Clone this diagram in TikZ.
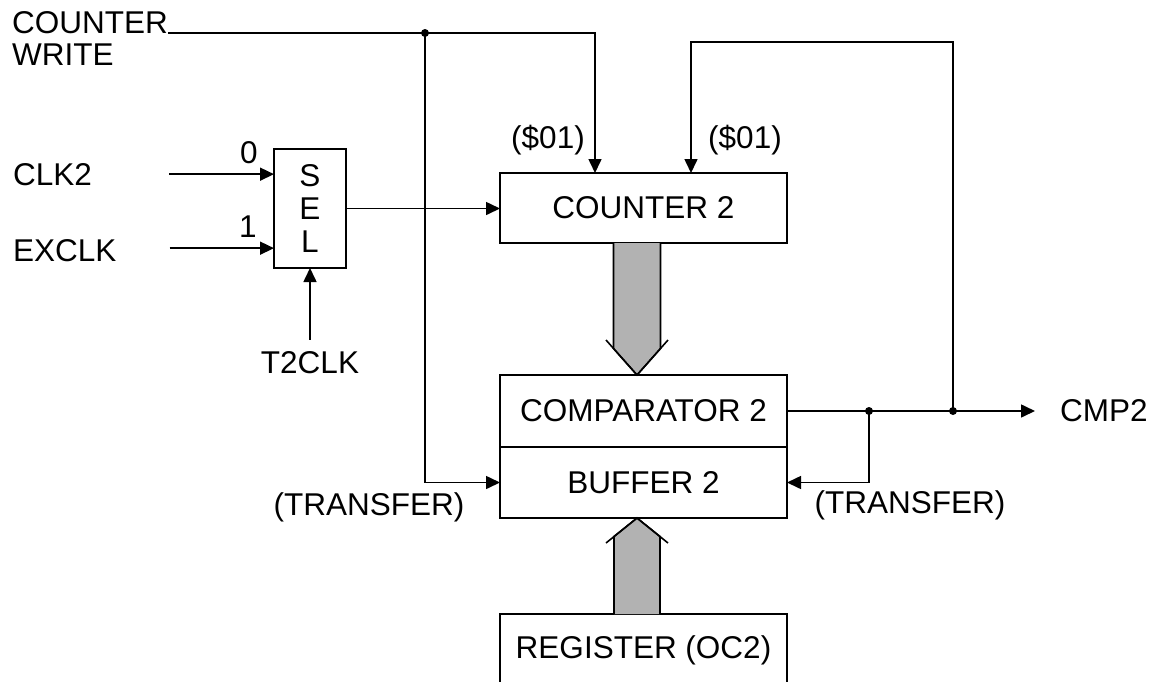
\documentclass[tikz,border=0pt]{standalone}
\usepackage{fontspec}
\setmainfont{Liberation Sans}
\usetikzlibrary{arrows.meta, calc, positioning}
\tikzstyle{block}=[rectangle, draw=black, line width=1.6pt, minimum width=287pt, inner sep=0pt, outer sep=0pt]
\tikzstyle{lbl}=[inner sep=0pt]
\tikzstyle{sig}=[line width=1.6pt, -{Triangle[length=14pt,width=13pt]}]
\tikzstyle{bus}=[line width=1.6pt, fill=black!30]
\tikzstyle{dot}=[circle, fill=black, inner sep=0pt, minimum size=8pt]

\begin{document}
\begin{tikzpicture}[x=1pt, y=-1pt, font=\fontsize{31.5}{33}\selectfont]
  \useasboundingbox (0,0) rectangle (1154,681);
  \clip (0,0) rectangle (1154,681);

  % blocks
  \node[block, minimum height=70pt] (cnt) at (643.5,208) {COUNTER 2};
  \node[block, minimum height=72pt] (cmp) at (643.5,411) {COMPARATOR 2};
  \node[block, minimum height=71pt, below=0pt of cmp] (buf) {BUFFER 2};
  \node[block, minimum height=72pt] (reg) at (643.5,650) {REGISTER (OC2)};
  \node[block, minimum width=72pt, minimum height=119pt, align=center] (sel) at (310,208.5) {S\\E\\L};

  % labels
  \node[lbl, anchor=base west] (cwr) at (12,33) {COUNTER};
  \node[lbl, anchor=base west] (cwr2) at (12,65) {WRITE};
  \node[lbl, anchor=base west] (clk2) at (13,185) {CLK2};
  \node[lbl, anchor=base west] (exclk) at (13,261) {EXCLK};
  \node[lbl, anchor=base] (in0) at (249,163) {0};
  \node[lbl, anchor=base] (in1) at (248,237) {1};
  \node[lbl, anchor=base] (t2clk) at (310,373) {T2CLK};
  \node[lbl, anchor=base] (wr1) at (548,148) {(\$01)};
  \node[lbl, anchor=base] (wr2) at (745,148) {(\$01)};
  \node[lbl, anchor=base] (trl) at (369,515) {(TRANSFER)};
  \node[lbl, anchor=base] (trr) at (910,513) {(TRANSFER)};
  \node[lbl, anchor=base west] (cmp2) at (1060,421) {CMP2};

  % junctions
  \coordinate (jw) at (425,33);
  \coordinate (jt) at ($(cmp.east)+(82,0)$);
  \coordinate (jl) at ($(cmp.east)+(166,0)$);
  \coordinate (ld) at ($(cnt.north west)+(191,0)$);

  % signals
  \draw[sig] (cwr.base east) -| ($(cnt.north west)+(95,0)$);
  \draw[sig] (jw) |- (buf.west);
  \draw[sig] (jl) -- (jl |- 0,42) -| (ld);
  \draw[sig] (jt) |- (buf.east);
  \draw[sig, shorten >=25pt] (cmp.east) -- (cmp.east -| cmp2.west);
  \draw[sig] (sel.east) -- (sel.east -| cnt.west);
  \draw[sig] ($(clk2.east)+(77,0)$) -- (clk2.east -| sel.west);
  \draw[sig] ($(exclk.east)+(53,-2)$) -- ($(exclk.east -| sel.west)+(0,-2)$);
  \draw[sig, shorten <=11pt] (t2clk.north) -- (sel.south);

  \node[dot] at (jw) {};
  \node[dot] at (jt) {};
  \node[dot] at (jl) {};

  % buses
  \begin{scope}[shift={(cmp.north)}]
    \filldraw[bus] (-30,-132) -- (-30,-26.5) -- (-6.5,0) -- (17,-26.5) -- (17,-132);
    \draw[bus, fill=none] (-37.5,-35) -- (-6.5,0) -- (24.5,-35);
  \end{scope}
  \begin{scope}[shift={(buf.south)}]
    \filldraw[bus] (-29.5,96) -- (-29.5,18.5) -- (-6.5,0) -- (16.5,18.5) -- (16.5,96);
    \draw[bus, fill=none] (-37.5,25) -- (-6.5,0) -- (24.5,25);
  \end{scope}
\end{tikzpicture}
\end{document}
